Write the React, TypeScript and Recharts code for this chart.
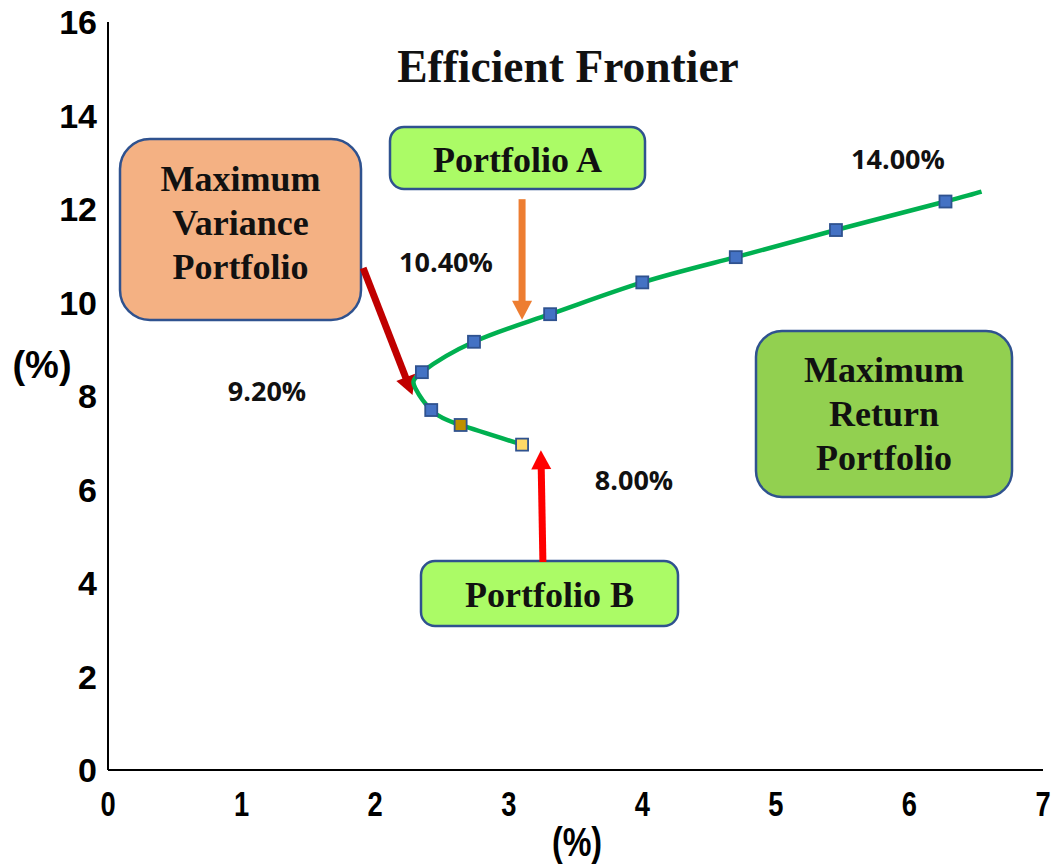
import React from 'react';
import { ComposedChart, Line, Scatter, XAxis, YAxis } from 'recharts';

// Risk (x, %) and return (y, %) along the efficient frontier curve
const frontierRisk = [3.1, 2.64, 2.42, 2.3, 2.35, 2.74, 3.31, 4.0, 4.7, 5.45, 6.27, 6.54];
const frontierReturn = [6.96, 7.38, 7.7, 8.17, 8.51, 9.16, 9.75, 10.43, 10.97, 11.55, 12.16, 12.37];

// Individual portfolios plotted as square markers
const portfolioRisk = [2.35, 2.42, 2.64, 3.1, 2.74, 3.31, 4.0, 4.7, 5.45, 6.27];
const portfolioReturn = [8.51, 7.7, 7.38, 6.96, 9.16, 9.75, 10.43, 10.97, 11.55, 12.16];
const portfolioFill = ['#4472C4', '#4472C4', '#BF9000', '#FFD966', '#4472C4', '#4472C4', '#4472C4', '#4472C4', '#4472C4', '#4472C4'];

const xTicks = [0, 1, 2, 3, 4, 5, 6, 7];
const yTicks = [0, 2, 4, 6, 8, 10, 12, 14, 16];

const frontier = frontierRisk.map((x, i) => ({ x, y: frontierReturn[i] }));
const portfolios = portfolioRisk.map((x, i) => ({ x, y: portfolioReturn[i], fill: portfolioFill[i] }));

const W = 1054;
const H = 865;
const PLOT = { left: 108, right: 1043, top: 22, bottom: 770 };
const X_MAX = 7;
const Y_MAX = 16;
const toPxX = (x: number) => PLOT.left + (x / X_MAX) * (PLOT.right - PLOT.left);
const toPxY = (y: number) => PLOT.bottom - (y / Y_MAX) * (PLOT.bottom - PLOT.top);

const SANS = '"Liberation Sans", Arial, sans-serif';
const SERIF = '"Liberation Serif", "Times New Roman", serif';
const LABEL_FONT = '"Open Sans", "Noto Sans", sans-serif';

// Condensed bold digits under the horizontal axis
const XTick = (props: any) => (
  <text
    transform={`translate(${props.x},${PLOT.bottom + 46}) scale(0.78,1)`}
    textAnchor="middle"
    fontFamily={SANS}
    fontWeight={700}
    fontSize={35}
    fill="#000"
  >
    {props.payload.value}
  </text>
);

const YTick = (props: any) => (
  <text x={PLOT.left - 11} y={props.y + 12} textAnchor="end" fontFamily={SANS} fontWeight={700} fontSize={34} fill="#000">
    {props.payload.value}
  </text>
);

const SquareMarker = (props: any) => {
  const { cx, cy, payload } = props;
  const s = 12;
  return <rect x={cx - s / 2} y={cy - s / 2} width={s} height={s} fill={payload.fill} stroke="#2F528F" strokeWidth={1.8} />;
};

// Callout arrows, given in data coordinates (tail -> tip)
const arrows = [
  { from: [3.1, 12.21], to: [3.1, 9.63], color: '#ED7D31' },
  { from: [1.91, 10.74], to: [2.28, 8.02], color: '#C00000' },
  { from: [3.256, 4.45], to: [3.241, 6.84], color: '#FF0000' },
];

const Arrow = ({ from, to, color }: { from: number[]; to: number[]; color: string }) => {
  const x1 = toPxX(from[0]);
  const y1 = toPxY(from[1]);
  const x2 = toPxX(to[0]);
  const y2 = toPxY(to[1]);
  const dx = x2 - x1;
  const dy = y2 - y1;
  const len = Math.sqrt(dx * dx + dy * dy);
  const ux = dx / len;
  const uy = dy / len;
  const headLen = 19;
  const headHalf = 10;
  const bx = x2 - ux * headLen;
  const by = y2 - uy * headLen;
  const nx = -uy;
  const ny = ux;
  return (
    <g>
      <line x1={x1} y1={y1} x2={bx + ux * 2} y2={by + uy * 2} stroke={color} strokeWidth={7} />
      <polygon points={`${x2},${y2} ${bx + nx * headHalf},${by + ny * headHalf} ${bx - nx * headHalf},${by - ny * headHalf}`} fill={color} />
    </g>
  );
};

type Box = { x: number; y: number; w: number; h: number; r: number; fill: string; lines: string[]; baseline: number; lineGap: number };

const boxes: Box[] = [
  { x: 120, y: 139, w: 241, h: 181, r: 30, fill: '#F4B183', lines: ['Maximum', 'Variance', 'Portfolio'], baseline: 191, lineGap: 44 },
  { x: 390, y: 127, w: 255, h: 62, r: 14, fill: '#ABFB66', lines: ['Portfolio A'], baseline: 172, lineGap: 0 },
  { x: 756, y: 331, w: 256, h: 166, r: 26, fill: '#92D050', lines: ['Maximum', 'Return', 'Portfolio'], baseline: 382, lineGap: 44 },
  { x: 421, y: 561, w: 257, h: 65, r: 14, fill: '#ABFB66', lines: ['Portfolio B'], baseline: 607, lineGap: 0 },
];

const pctLabels = [
  { text: '14.00%', x: 898, y: 169 },
  { text: '10.40%', x: 446, y: 272 },
  { text: '9.20%', x: 267, y: 401 },
  { text: '8.00%', x: 634, y: 490 },
];

export default function App() {
  return (
    <div style={{ position: 'relative', width: W, height: H, background: '#fff' }}>
      <style>{'html, body { margin: 0; padding: 0; overflow: hidden; } .recharts-surface { overflow: visible; }'}</style>
      <svg width={W} height={H} style={{ position: 'absolute', left: 0, top: 0 }}>
        <text x={568} y={82} textAnchor="middle" fontFamily={SERIF} fontWeight={700} fontSize={45.5} fill="#111">
          Efficient Frontier
        </text>
        {boxes.map((b, i) => (
          <g key={i}>
            <rect x={b.x} y={b.y} width={b.w} height={b.h} rx={b.r} ry={b.r} fill={b.fill} stroke="#2F528F" strokeWidth={2.5} />
            {b.lines.map((t, j) => (
              <text key={j} x={b.x + b.w / 2} y={b.baseline + j * b.lineGap} textAnchor="middle" fontFamily={SERIF} fontWeight={700} fontSize={36} fill="#111">
                {t}
              </text>
            ))}
          </g>
        ))}
        {pctLabels.map((l, i) => (
          <text key={i} x={l.x} y={l.y} textAnchor="middle" fontFamily={LABEL_FONT} fontWeight={700} fontSize={27} fill="#111">
            {l.text}
          </text>
        ))}
        {arrows.map((a, i) => (
          <Arrow key={i} from={a.from} to={a.to} color={a.color} />
        ))}
        <text x={42} y={378} textAnchor="middle" fontFamily={SANS} fontWeight={700} fontSize={38} fill="#000">
          (%)
        </text>
        <text transform="translate(577,856) scale(0.85,1.05)" textAnchor="middle" fontFamily={SANS} fontWeight={700} fontSize={38} fill="#000">
          (%)
        </text>
      </svg>
      <div style={{ position: 'absolute', left: 0, top: 0 }}>
        <ComposedChart width={W} height={H} margin={{ top: PLOT.top, right: W - PLOT.right, bottom: H - PLOT.bottom - 60, left: PLOT.left - 60 }}>
          <XAxis
            type="number"
            dataKey="x"
            domain={[0, X_MAX]}
            ticks={xTicks}
            allowDataOverflow
            height={60}
            tickLine={false}
            axisLine={{ stroke: '#000', strokeWidth: 2 }}
            tick={<XTick />}
            interval={0}
          />
          <YAxis
            type="number"
            dataKey="y"
            domain={[0, Y_MAX]}
            ticks={yTicks}
            allowDataOverflow
            width={60}
            tickLine={false}
            axisLine={{ stroke: '#000', strokeWidth: 2 }}
            tick={<YTick />}
            interval={0}
          />
          <Line
            data={frontier}
            dataKey="y"
            type="natural"
            stroke="#00B050"
            strokeWidth={4.5}
            dot={false}
            activeDot={false}
            isAnimationActive={false}
          />
          <Scatter data={portfolios} dataKey="y" shape={<SquareMarker />} isAnimationActive={false} />
        </ComposedChart>
      </div>
    </div>
  );
}
